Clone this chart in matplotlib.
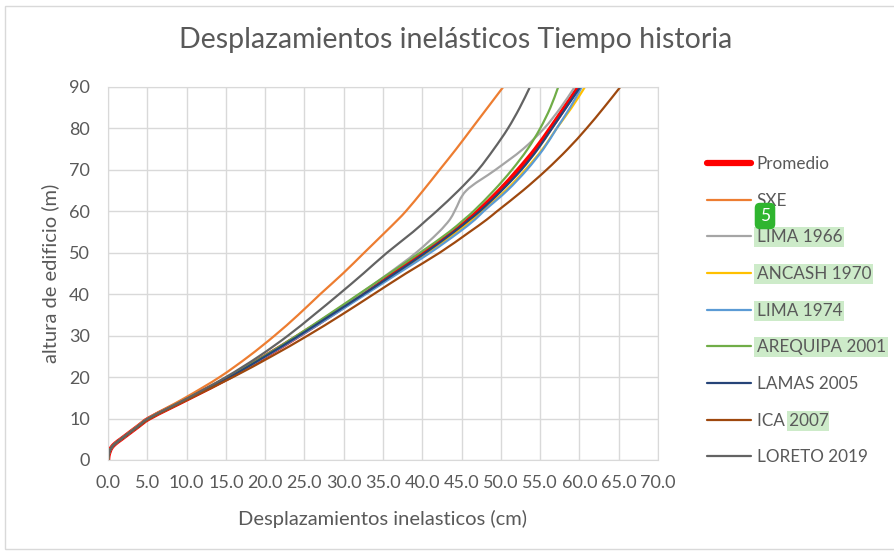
import matplotlib
matplotlib.use("Agg")
import matplotlib.pyplot as plt
from matplotlib.patches import Rectangle, PathPatch
from matplotlib.path import Path
from matplotlib.lines import Line2D

plt.rcParams['font.family'] = ['Lato', 'DejaVu Sans']

heights = [0, 1, 2, 3, 4, 5, 6, 8, 10, 15, 20, 25, 30, 35, 40, 45, 50, 55, 58, 60, 65, 70, 75, 80, 85, 90]

promedio   = [0, 0.05, 0.2, 0.45, 0.95, 1.65, 2.35, 3.75, 5.2, 10.4, 15.5, 20.0, 24.3, 28.4, 32.4, 36.4, 40.3, 44.0, 45.9, 47.1, 49.8, 52.2, 54.4, 56.3, 58.1, 59.9]
sxe        = [0, 0.05, 0.2, 0.42, 0.90, 1.55, 2.25, 3.6, 5.0, 9.8, 14.2, 17.9, 21.2, 24.2, 27.0, 29.9, 32.6, 35.3, 36.9, 37.9, 40.1, 42.2, 44.3, 46.3, 48.3, 50.3]
lima1966   = [0, 0.05, 0.2, 0.45, 0.95, 1.65, 2.35, 3.75, 5.2, 10.4, 15.5, 20.0, 24.2, 28.2, 32.0, 35.7, 39.2, 42.1, 43.5, 44.1, 45.6, 49.3, 52.8, 55.5, 57.6, 59.4]
ancash1970 = [0, 0.05, 0.2, 0.45, 0.95, 1.65, 2.35, 3.75, 5.2, 10.4, 15.5, 20.0, 24.3, 28.5, 32.6, 36.6, 40.6, 44.4, 46.4, 47.6, 50.6, 53.1, 55.3, 57.1, 59.0, 60.7]
lima1974   = [0, 0.05, 0.2, 0.45, 0.95, 1.65, 2.35, 3.75, 5.2, 10.4, 15.5, 20.1, 24.5, 28.7, 32.8, 36.9, 41.0, 44.7, 46.7, 47.8, 50.8, 53.3, 55.4, 57.1, 58.8, 60.3]
arequipa   = [0, 0.05, 0.2, 0.45, 0.95, 1.65, 2.35, 3.75, 5.2, 10.3, 15.3, 19.8, 24.0, 28.0, 31.9, 35.8, 39.7, 43.4, 45.3, 46.5, 49.1, 51.4, 53.4, 55.0, 56.3, 57.3]
lamas2005  = [0, 0.05, 0.2, 0.45, 0.95, 1.65, 2.35, 3.75, 5.2, 10.4, 15.5, 20.0, 24.3, 28.4, 32.5, 36.5, 40.4, 44.0, 46.0, 47.3, 50.1, 52.6, 54.7, 56.5, 58.3, 60.1]
ica2007    = [0, 0.05, 0.2, 0.45, 0.95, 1.65, 2.35, 3.8, 5.3, 10.6, 15.9, 20.8, 25.4, 29.7, 33.8, 37.9, 42.2, 46.0, 48.2, 49.5, 52.8, 55.8, 58.5, 60.9, 63.1, 65.2]
loreto2019 = [0, 0.05, 0.2, 0.45, 0.95, 1.60, 2.3, 3.7, 5.1, 10.2, 15.0, 19.2, 22.9, 26.2, 29.4, 32.5, 35.5, 38.8, 40.6, 41.8, 44.6, 47.1, 49.1, 50.9, 52.4, 53.7]

series_names = ["Promedio", "SXE", "LIMA 1966", "ANCASH 1970", "LIMA 1974",
                "AREQUIPA 2001", "LAMAS 2005", "ICA 2007", "LORETO 2019"]
series_values = [promedio, sxe, lima1966, ancash1970, lima1974,
                 arequipa, lamas2005, ica2007, loreto2019]
colors = ["#FF0000", "#ED7D31", "#A5A5A5", "#FFC000", "#5B9BD5",
          "#70AD47", "#264478", "#9E480E", "#636363"]
widths = [3.2, 1.6, 1.6, 1.6, 1.6, 1.6, 1.6, 1.6, 1.6]

x_ticks = [0, 5, 10, 15, 20, 25, 30, 35, 40, 45, 50, 55, 60, 65, 70]
y_ticks = [0, 10, 20, 30, 40, 50, 60, 70, 80, 90]


def smoothed_path(xs, ts):
    """Excel-like smoothed line: cubic Hermite segments through the points,
    parametrised by height."""
    n = len(xs)
    m = []
    for i in range(n):
        if i == 0:
            m.append((xs[1] - xs[0]) / (ts[1] - ts[0]))
        elif i == n - 1:
            m.append((xs[-1] - xs[-2]) / (ts[-1] - ts[-2]))
        else:
            m.append((xs[i + 1] - xs[i - 1]) / (ts[i + 1] - ts[i - 1]))
    verts = [(xs[0], ts[0])]
    codes = [Path.MOVETO]
    for i in range(n - 1):
        h = ts[i + 1] - ts[i]
        verts += [(xs[i] + m[i] * h / 3, ts[i] + h / 3),
                  (xs[i + 1] - m[i + 1] * h / 3, ts[i + 1] - h / 3),
                  (xs[i + 1], ts[i + 1])]
        codes += [Path.CURVE4] * 3
    return Path(verts, codes)


W, H = 895, 552
fig = plt.figure(figsize=(W / 100, H / 100), dpi=100)
ax = fig.add_axes([108 / W, (H - 460) / H, 550 / W, 373 / H])

txt = "#595959"
handles = []
for k, (name, vals, c, lw) in enumerate(zip(series_names, series_values, colors, widths)):
    patch = PathPatch(smoothed_path(vals, heights), facecolor='none', edgecolor=c,
                      lw=lw, capstyle='round', joinstyle='round', zorder=2 + k * 0.01)
    ax.add_patch(patch)
    handles.append(Line2D([], [], color=c, lw=(4.5 if k == 0 else lw),
                          solid_capstyle='round', label=name))

ax.set_xlim(0, 70)
ax.set_ylim(0, 90)
ax.set_xticks(x_ticks)
ax.set_xticklabels([f"{v:.1f}" for v in x_ticks])
ax.set_yticks(y_ticks)
ax.grid(True, color="#D9D9D9", lw=1.0)
ax.set_axisbelow(True)
for s in ax.spines.values():
    s.set_color("#D9D9D9")
ax.tick_params(length=0, colors=txt, labelsize=13)
ax.tick_params(axis='x', pad=11)
ax.tick_params(axis='y', pad=13)

ax.set_xlabel("Desplazamientos inelasticos (cm)", fontsize=14.5, color=txt)
ax.set_ylabel("altura de edificio (m)", fontsize=14.5, color=txt)
ax.xaxis.set_label_coords((383 - 108) / 550, (460 - 510) / 373)
ax.yaxis.set_label_coords((59 - 108) / 550, 0.5)

fig.text(456 / W, 1 - 40 / H, "Desplazamientos inelásticos Tiempo historia",
         ha='center', va='center', fontsize=20.5, color=txt)

leg = ax.legend(handles=handles, loc='upper left', bbox_to_anchor=(707 / W, 1 - 156 / H),
                bbox_transform=fig.transFigure, frameon=False, fontsize=12.3,
                labelspacing=1.21, handlelength=2.6, handletextpad=0.3,
                borderaxespad=0, borderpad=0)
leg.set_zorder(6)
for t in leg.get_texts():
    t.set_color(txt)

highlight = "#CDEBC9"
for t in leg.get_texts():
    if t.get_text() in ("LIMA 1966", "ANCASH 1970", "LIMA 1974", "AREQUIPA 2001"):
        t.set_bbox(dict(facecolor=highlight, edgecolor='none', pad=1.5))

# chart border
fig.patches.append(Rectangle((5 / W, 3 / H), 1.0, 1 - 9 / H, transform=fig.transFigure,
                             fill=False, edgecolor="#D9D9D9", lw=1.0))

fig.canvas.draw()
r = fig.canvas.get_renderer()

# partial highlight on "2007" of ICA 2007
for t in leg.get_texts():
    if t.get_text() == "ICA 2007":
        bb = t.get_window_extent(r)
        x0 = bb.x0 + bb.width * 0.42
        rect = Rectangle((x0 / W, (bb.y0 - 2) / H), (bb.x1 - x0 + 1) / W,
                         (bb.height + 4) / H, transform=fig.transFigure,
                         facecolor=highlight, edgecolor='none', zorder=5, clip_on=False)
        ax.add_artist(rect)

# find badge
fig.text(765 / W, 1 - 216 / H, "5", ha='center', va='center', fontsize=12.5, color='white',
         zorder=10,
         bbox=dict(boxstyle='round,pad=0.3', facecolor='#2FB52F', edgecolor='none'))

fig.savefig("out.png", dpi=100)
